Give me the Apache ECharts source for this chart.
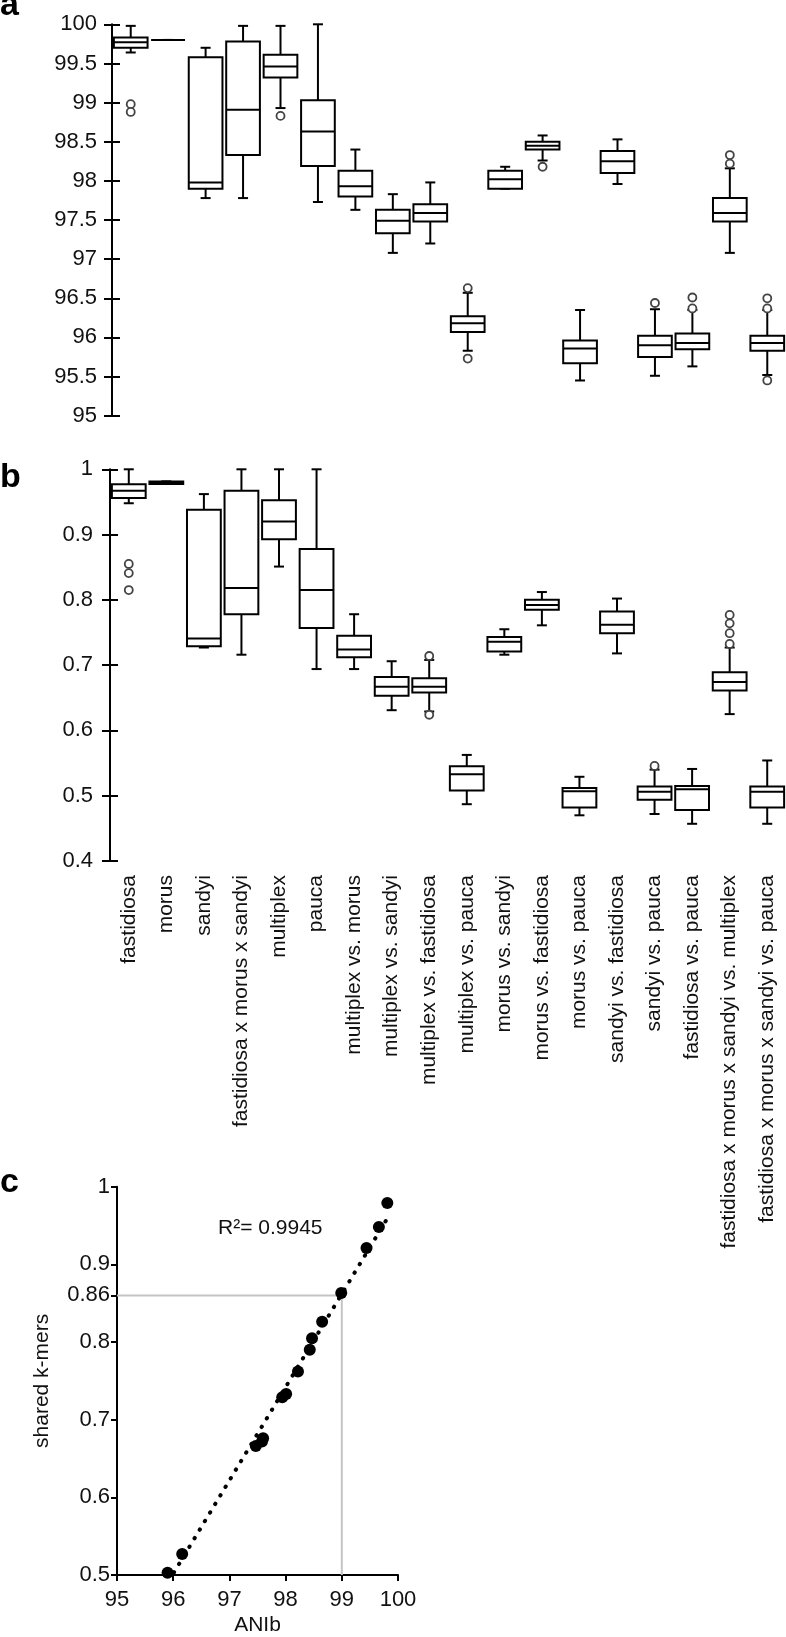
<!DOCTYPE html>
<html>
<head>
<meta charset="utf-8">
<script src="https://cdn.jsdelivr.net/npm/echarts@6/dist/echarts.min.js"></script>
<style>
html,body{margin:0;padding:0;background:#fff;}
#chart{width:786px;height:1637px;}
</style>
</head>
<body>
<div id="chart"></div>
<script>
const categories = ['fastidiosa','morus','sandyi','fastidiosa x morus x sandyi','multiplex','pauca','multiplex vs. morus','multiplex vs. sandyi','multiplex vs. fastidiosa','multiplex vs. pauca','morus vs. sandyi','morus vs. fastidiosa','morus vs. pauca','sandyi vs. fastidiosa','sandyi vs. pauca','fastidiosa vs. pauca','fastidiosa x morus x sandyi vs. multiplex','fastidiosa x morus x sandyi vs. pauca'];

// Panel a: ANIb
const aLow  = [99.64, 99.80, 97.78, 97.78, 98.93, 97.73, 97.63, 97.08, 97.20, 95.83, 97.90, 98.26, 95.45, 97.96, 95.51, 95.63, 97.08, 95.52];
const aQ1   = [99.70, 99.80, 97.90, 98.33, 99.32, 98.19, 97.80, 97.33, 97.48, 96.07, 97.90, 98.40, 95.67, 98.10, 95.75, 95.85, 97.48, 95.83];
const aMed  = [99.77, 99.80, 97.98, 98.91, 99.46, 98.63, 97.93, 97.49, 97.59, 96.18, 98.02, 98.45, 95.86, 98.25, 95.90, 95.93, 97.59, 95.93];
const aQ3   = [99.83, 99.80, 99.58, 99.78, 99.61, 99.03, 98.13, 97.63, 97.70, 96.27, 98.13, 98.50, 95.96, 98.38, 96.02, 96.05, 97.78, 96.02];
const aHigh = [99.98, 99.80, 99.70, 99.98, 99.98, 100.0, 98.40, 97.83, 97.98, 96.57, 98.18, 98.58, 96.35, 98.53, 96.36, 96.35, 98.16, 96.35];
const aOutliers = [[0,98.98],[0,98.88],[4,98.83],[9,96.63],[9,95.73],[11,98.18],[14,96.44],[15,96.51],[15,96.37],[16,98.33],[16,98.22],[17,96.50],[17,96.37],[17,95.45]];

// Panel b: shared k-mers
const bLow  = [0.948, 0.9775, 0.727, 0.716, 0.851, 0.694, 0.694, 0.631, 0.629, 0.487, 0.716, 0.761, 0.470, 0.718, 0.472, 0.457, 0.625, 0.457];
const bQ1   = [0.956, 0.9775, 0.729, 0.778, 0.893, 0.757, 0.712, 0.653, 0.658, 0.508, 0.721, 0.785, 0.482, 0.749, 0.494, 0.478, 0.661, 0.482];
const bMed  = [0.967, 0.9795, 0.741, 0.818, 0.920, 0.815, 0.724, 0.667, 0.667, 0.533, 0.736, 0.792, 0.507, 0.762, 0.506, 0.510, 0.674, 0.506];
const bQ3   = [0.977, 0.9815, 0.938, 0.967, 0.9525, 0.878, 0.745, 0.682, 0.680, 0.545, 0.743, 0.800, 0.512, 0.782, 0.514, 0.515, 0.689, 0.514];
const bHigh = [1.000, 0.9815, 0.962, 1.000, 1.000, 1.000, 0.778, 0.706, 0.708, 0.5625, 0.755, 0.812, 0.529, 0.802, 0.540, 0.541, 0.727, 0.554];
const bOutliers = [[0,0.855],[0,0.841],[0,0.815],[8,0.714],[8,0.624],[14,0.5456],[16,0.777],[16,0.764],[16,0.749],[16,0.7325]];

// Panel c: scatter
const cAni  = [95.90, 96.16, 97.47, 97.58, 97.60, 97.94, 98.01, 98.22, 98.43, 98.47, 98.65, 98.99, 99.44, 99.66, 99.81];
const cKmer = [0.503, 0.527, 0.666, 0.672, 0.676, 0.729, 0.733, 0.762, 0.790, 0.805, 0.826, 0.863, 0.921, 0.948, 0.979];
const trendAni  = [95.92, 99.80];
const trendKmer = [0.492, 0.958];
const refAni = 99;
const refKmer = 0.86;
const cYTicks = [0.5, 0.6, 0.7, 0.8, 0.86, 0.9, 1];
const r2Text = 'R²= 0.9945';

const FONT = '"Liberation Sans", Arial, sans-serif';
const TXT = '#111';

function renderBox(params, api) {
  const x = api.value(0);
  const lo = api.coord([x, api.value(1)]);
  const q1 = api.coord([x, api.value(2)]);
  const md = api.coord([x, api.value(3)]);
  const q3 = api.coord([x, api.value(4)]);
  const hi = api.coord([x, api.value(5)]);
  const bw = api.size([1, 0])[0] * 0.9;
  const cx = lo[0];
  const cap = 5;
  const st = {stroke: '#000', lineWidth: 2, fill: null};
  return {type: 'group', children: [
    {type: 'line', shape: {x1: cx, y1: hi[1], x2: cx, y2: q3[1]}, style: st},
    {type: 'line', shape: {x1: cx, y1: q1[1], x2: cx, y2: lo[1]}, style: st},
    {type: 'line', shape: {x1: cx - cap, y1: hi[1], x2: cx + cap, y2: hi[1]}, style: st},
    {type: 'line', shape: {x1: cx - cap, y1: lo[1], x2: cx + cap, y2: lo[1]}, style: st},
    {type: 'rect', shape: {x: cx - bw / 2, y: q3[1], width: bw, height: q1[1] - q3[1]}, style: {stroke: '#000', lineWidth: 2, fill: '#fff'}},
    {type: 'line', shape: {x1: cx - bw / 2, y1: md[1], x2: cx + bw / 2, y2: md[1]}, style: st}
  ]};
}

const boxA = categories.map((c, i) => [i, aLow[i], aQ1[i], aMed[i], aQ3[i], aHigh[i]]);
const boxB = categories.map((c, i) => [i, bLow[i], bQ1[i], bMed[i], bQ3[i], bHigh[i]]);
const scatterC = cAni.map((v, i) => [v, cKmer[i]]);

const axisLineStyle = {show: true, lineStyle: {color: '#000', width: 2}};
const labelStyle = {color: TXT, fontSize: 21, fontFamily: FONT};
const numStyle = {color: TXT, fontSize: 22, fontFamily: FONT};

function valueAxisPair(gridIndex, min, max, interval, margin) {
  return [
    {type: 'value', gridIndex, min, max, interval, position: 'left',
     axisLine: axisLineStyle,
     axisTick: {show: true, inside: false, length: 8, lineStyle: {color: '#000', width: 2}},
     axisLabel: Object.assign({margin}, numStyle),
     splitLine: {show: false}},
    {type: 'value', gridIndex, min, max, interval, position: 'left', offset: 0,
     axisLine: {show: false},
     axisTick: {show: true, inside: true, length: 8, lineStyle: {color: '#000', width: 2}},
     axisLabel: {show: false},
     splitLine: {show: false}}
  ];
}

const yAxes = [].concat(
  valueAxisPair(0, 95, 100, 0.5, 15),
  valueAxisPair(1, 0.4, 1, 0.1, 17),
  [{type: 'value', gridIndex: 2, min: 0.5, max: 1, position: 'left',
    axisLine: axisLineStyle,
    axisTick: {show: true, length: 6, lineStyle: {color: '#000', width: 2}, customValues: cYTicks},
    axisLabel: Object.assign({margin: 7, customValues: cYTicks, formatter: v => String(+Number(v).toFixed(2))}, numStyle),
    splitLine: {show: false},
    name: 'shared k-mers', nameLocation: 'middle', nameGap: 64, nameRotate: 90,
    nameTextStyle: {color: TXT, fontSize: 21, fontFamily: FONT}}]
);

const option = {
  animation: false,
  backgroundColor: '#fff',
  grid: [
    {left: 112, right: 0, top: 24.3, bottom: 1221.3, outerBoundsMode: 'none'},
    {left: 110, right: 0, top: 469.3, bottom: 776, outerBoundsMode: 'none'},
    {left: 117, right: 388, top: 1186.7, bottom: 62, outerBoundsMode: 'none'}
  ],
  xAxis: [
    {type: 'category', gridIndex: 0, data: categories, boundaryGap: true,
     axisLine: {show: false}, axisTick: {show: false}, axisLabel: {show: false}, splitLine: {show: false}},
    {type: 'category', gridIndex: 1, data: categories, boundaryGap: true,
     axisLine: {show: false}, axisTick: {show: false},
     axisLabel: Object.assign({interval: 0, rotate: 90, margin: 14, hideOverlap: false}, labelStyle),
     splitLine: {show: false}},
    {type: 'value', gridIndex: 2, min: 95, max: 100, interval: 1,
     axisLine: axisLineStyle,
     axisTick: {show: true, length: 6, lineStyle: {color: '#000', width: 2}},
     axisLabel: Object.assign({margin: 14}, numStyle),
     splitLine: {show: false},
     name: 'ANIb', nameLocation: 'middle', nameGap: 40,
     nameTextStyle: {color: TXT, fontSize: 21, fontFamily: FONT}}
  ],
  yAxis: yAxes,
  series: [
    {type: 'custom', name: 'ANIb box', xAxisIndex: 0, yAxisIndex: 0, data: boxA,
     encode: {x: 0, y: [1, 2, 3, 4, 5]}, renderItem: renderBox, clip: false, z: 2},
    {type: 'scatter', name: 'ANIb outliers', xAxisIndex: 0, yAxisIndex: 0, data: aOutliers,
     symbol: 'circle', symbolSize: 8,
     itemStyle: {color: '#fff', borderColor: '#444', borderWidth: 1.8, opacity: 1}, z: 3},
    {type: 'custom', name: 'k-mer box', xAxisIndex: 1, yAxisIndex: 2, data: boxB,
     encode: {x: 0, y: [1, 2, 3, 4, 5]}, renderItem: renderBox, clip: false, z: 2},
    {type: 'scatter', name: 'k-mer outliers', xAxisIndex: 1, yAxisIndex: 2, data: bOutliers,
     symbol: 'circle', symbolSize: 8,
     itemStyle: {color: '#fff', borderColor: '#444', borderWidth: 1.8, opacity: 1}, z: 3},
    {type: 'line', name: 'ref', xAxisIndex: 2, yAxisIndex: 4,
     data: [[95, refKmer], [refAni, refKmer], [refAni, 0.5]],
     symbol: 'none', lineStyle: {color: '#c4c4c4', width: 2}, z: 1},
    {type: 'line', name: 'trend', xAxisIndex: 2, yAxisIndex: 4,
     data: trendAni.map((v, i) => [v, trendKmer[i]]),
     symbol: 'none', lineStyle: {color: '#000', width: 4, type: [0.5, 9.5], cap: 'round'}, z: 2},
    {type: 'scatter', name: 'points', xAxisIndex: 2, yAxisIndex: 4, data: scatterC,
     symbol: 'circle', symbolSize: 12, itemStyle: {color: '#000', opacity: 1}, z: 3}
  ],
  graphic: [
    {type: 'text', x: 0, y: 6, style: {text: 'a', font: 'bold 34px ' + FONT, fill: '#000', verticalAlign: 'middle'}},
    {type: 'text', x: 0, y: 478, style: {text: 'b', font: 'bold 34px ' + FONT, fill: '#000', verticalAlign: 'middle'}},
    {type: 'text', x: 0, y: 1183, style: {text: 'c', font: 'bold 34px ' + FONT, fill: '#000', verticalAlign: 'middle'}},
    {type: 'text', x: 218, y: 1228, style: {text: r2Text, font: '21px ' + FONT, fill: TXT, verticalAlign: 'middle'}}
  ]
};

const chart = echarts.init(document.getElementById('chart'), null, {renderer: 'canvas'});
chart.setOption(option);
</script>
</body>
</html>
